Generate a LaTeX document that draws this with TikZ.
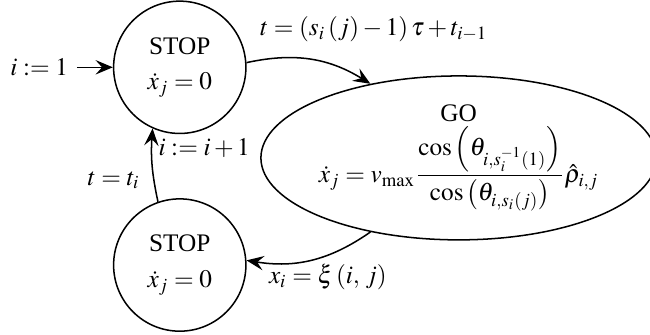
\documentclass[tikz,border=0pt]{standalone}
\usepackage{amsmath}
\usepackage{mathptmx}
\usepackage[no-math]{fontspec}
\setmainfont{Liberation Serif}
\usetikzlibrary{shapes.geometric,arrows.meta,positioning}

\begin{document}
\begin{tikzpicture}[
  font=\normalsize,>={Stealth[length=2.4mm,width=2mm,inset=0.9mm]},node distance=5mm,
  state/.style={circle,draw,semithick,align=center,minimum size=1.84cm,inner sep=0pt},
  gostate/.style={ellipse,draw,semithick,align=center,minimum width=5.26cm,minimum height=2.28cm,inner sep=0pt},
  trans/.style={->,semithick}]
\useasboundingbox (0,0) rectangle (9.04,4.646);
\node[state] (stopa) at (2.50,3.71) {STOP\\[2pt] $\dot{x}_j = 0$};
\node[state] (stopb) at (2.50,0.96) {STOP\\[2pt] $\dot{x}_j = 0$};
\node[gostate] (go) at (6.38,2.45) {GO\\[1pt] $\dot{x}_j = v_{\max}\dfrac{\cos\left(\theta_{i,s_i^{-1}(1)}\right)}{\cos\left(\theta_{i,s_i(j)}\right)}\hat{\rho}_{i,j}$};
\node[left=of stopa] (init) {$i := 1$};
% transition labels
\node (lgo) at (5.20,4.24) {$t = \left(s_i\left(j\right) - 1\right)\tau + t_{i-1}$};
\node (lstop) at (4.56,0.79) {$x_i = \xi\left(i,\,j\right)$};
\node (linc) at (2.84,2.59) {$i := i + 1$};
\node (lti) at (1.58,2.14) {$t = t_i$};
\draw[trans] (init) -- (stopa);
\draw[trans] (stopa.4) to[bend left=22] (go.140);
\draw[trans] (go.220) to[bend left=22] (stopb.4);
\draw[trans] (stopb.109) to[bend left=8] (stopa.246);
\end{tikzpicture}
\end{document}
